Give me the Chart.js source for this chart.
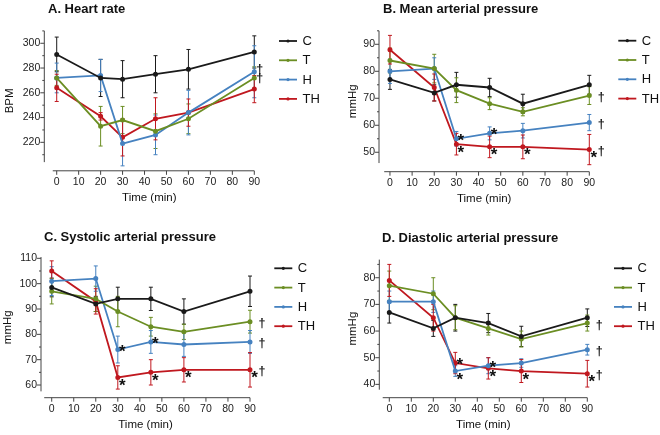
<!DOCTYPE html>
<html>
<head>
<meta charset="utf-8">
<script src="https://cdn.jsdelivr.net/npm/chart.js@4.4.0/dist/chart.umd.min.js"></script>
<style>
  body { margin: 0; background: #fff; }
  #wrap { position: relative; width: 660px; height: 435px; overflow: hidden; }
  canvas { position: absolute; }
  .ttl { position: absolute; font: bold 13px "Liberation Sans", Arial, sans-serif; line-height: 15px; white-space: nowrap; color: #111; }
</style>
</head>
<body>
<div id="wrap">
  <canvas id="cA" width="330" height="217" style="left:0;top:0"></canvas>
  <canvas id="cB" width="330" height="217" style="left:330px;top:0"></canvas>
  <canvas id="cC" width="330" height="218" style="left:0;top:217px"></canvas>
  <canvas id="cD" width="330" height="218" style="left:330px;top:217px"></canvas>
  <div class="ttl" style="left:48px;top:1px">A. Heart rate</div>
  <div class="ttl" style="left:383px;top:1px">B. Mean arterial pressure</div>
  <div class="ttl" style="left:44px;top:229px">C. Systolic arterial pressure</div>
  <div class="ttl" style="left:382px;top:229.5px">D. Diastolic arterial pressure</div>
</div>
<script>
const FONT = '"Liberation Sans", Arial, sans-serif';

const times = [0, 20, 30, 45, 60, 90];
const groups = ["C", "T", "H", "TH"];
const colors = ["#1a1a1a", "#6b8e23", "#4682c0", "#c0181f"];

// A. Heart rate (BPM), mean and SD
const hrC = [291, 272, 271, 275, 279, 293];
const hrT = [272, 233, 238, 229, 239, 272];
const hrH = [272, 274, 219, 226, 244, 277];
const hrTH = [264, 241, 224, 239, 244, 263];
const hrC_sd = [14, 15, 15, 15, 16, 13];
const hrT_sd = [6, 16, 11, 14, 12, 9];
const hrH_sd = [12, 13, 18, 16, 18, 21];
const hrTH_sd = [11, 3, 15, 17, 11, 11];

// B. Mean arterial pressure (mmHg)
const mapC = [77, 72, 75, 74, 68, 75];
const mapT = [84, 81, 73, 68, 65, 71];
const mapH = [80, 81, 55, 57, 58, 61];
const mapTH = [88, 74, 53, 52, 52, 51];
const mapC_sd = [3.7, 3, 4.6, 3.4, 3.5, 3.5];
const mapT_sd = [4.6, 5.3, 4.6, 2.2, 1.5, 3.3];
const mapH_sd = [4.5, 4, 2.7, 2.4, 2.7, 3];
const mapTH_sd = [5.3, 5, 4, 4, 4.4, 5.6];

// C. Systolic arterial pressure (mmHg)
const sapC = [98.5, 92, 94, 94, 89, 97];
const sapT = [97, 94, 89, 83, 81, 85];
const sapH = [101, 102, 74, 77, 76, 77];
const sapTH = [105, 93, 63, 65, 66, 66];
const sapC_sd = [3.7, 3, 4.6, 4.6, 5, 6];
const sapT_sd = [5, 5, 6, 3.7, 3, 4.5];
const sapH_sd = [5.7, 5, 5.3, 4.5, 4.7, 4.5];
const sapTH_sd = [4, 5, 4.6, 5, 4.8, 6.8];

// D. Diastolic arterial pressure (mmHg)
const dapC = [67, 61, 65, 63, 58, 65];
const dapT = [77, 74, 65, 61, 57, 63];
const dapH = [71, 71, 45, 47, 48, 53];
const dapTH = [79, 65, 48, 46, 45, 44];
const dapC_sd = [4, 3, 5, 3.6, 3.8, 3.3];
const dapT_sd = [5.5, 6, 4.5, 2.5, 3, 3];
const dapH_sd = [4, 4, 2, 3, 1.6, 2];
const dapTH_sd = [6, 5, 4, 4, 4.3, 5];

// significance marks: * vs baseline, † at the end of the experiment
const starsPressure = [["H", 30], ["H", 45], ["TH", 30], ["TH", 45], ["TH", 60], ["TH", 90]];
const daggersA = ["T", "H"];
const daggersPressure = ["T", "H", "TH"];

const panels = [
  { id: "cA", yTitle: "BPM", means: [hrC, hrT, hrH, hrTH], sds: [hrC_sd, hrT_sd, hrH_sd, hrTH_sd],
    xMin: -5.65, yMin: 197, yMax: 310, axisLo: 204, axisHi: 310, xStart: -1.8, major: 20, minor: 10,
    top: 30.9, right: 75.7, yW: 44.3, xH: 46.2, yTitlePad: 3.4, xTitlePad: 12.7,
    legX: 279, legY: 41, dagDx: 5.5, dagDy: -1, stars: [], daggers: daggersA },
  { id: "cB", yTitle: "mmHg", means: [mapC, mapT, mapH, mapTH], sds: [mapC_sd, mapT_sd, mapH_sd, mapTH_sd],
    xMin: -4.95, yMin: 42.8, yMax: 95, axisLo: 46, axisHi: 95, xStart: -2.6, major: 10, minor: 5,
    top: 30.8, right: 70.7, yW: 49, xH: 45.3, yTitlePad: 15.9, xTitlePad: 11.5,
    legX: 288.3, legY: 40.7, dagDx: 12, dagDy: 2, stars: starsPressure, daggers: daggersPressure },
  { id: "cC", yTitle: "mmHg", means: [sapC, sapT, sapH, sapTH], sds: [sapC_sd, sapT_sd, sapH_sd, sapTH_sd],
    xMin: -4.86, yMin: 55, yMax: 110.6, axisLo: 57.5, axisHi: 110.5, xStart: -3.4, major: 10, minor: 5,
    top: 39.8, right: 80, yW: 41, xH: 37.3, yTitlePad: 0.9, xTitlePad: 3.4,
    legX: 274.3, legY: 51.3, dagDx: 12, dagDy: 2, stars: starsPressure, daggers: daggersPressure },
  { id: "cD", yTitle: "mmHg", means: [dapC, dapT, dapH, dapTH], sds: [dapC_sd, dapT_sd, dapH_sd, dapTH_sd],
    xMin: -4.55, yMin: 35, yMax: 86.8, axisLo: 38, axisHi: 86.8, xStart: -3, major: 10, minor: 5,
    top: 42.6, right: 72.7, yW: 49.3, xH: 37.3, yTitlePad: 15.9, xTitlePad: 3.4,
    legX: 284, legY: 51.3, dagDx: 12, dagDy: 2, stars: starsPressure, daggers: daggersPressure }
];

// Prism-like extras: error bars, detached axes, legend, * and † marks
const prismPlugin = {
  id: "prism",
  beforeDatasetsDraw(chart) {
    const ctx = chart.ctx;
    const xs = chart.scales.x, ys = chart.scales.y;
    ctx.save();
    ctx.lineWidth = 1;
    chart.data.datasets.forEach(ds => {
      ctx.strokeStyle = ds.borderColor;
      ds.data.forEach((pt, j) => {
        const x = xs.getPixelForValue(pt.x);
        const y1 = ys.getPixelForValue(pt.y + ds.sd[j]);
        const y2 = ys.getPixelForValue(pt.y - ds.sd[j]);
        ctx.beginPath();
        ctx.moveTo(x, y1); ctx.lineTo(x, y2);
        ctx.moveTo(x - 2, y1); ctx.lineTo(x + 2, y1);
        ctx.moveTo(x - 2, y2); ctx.lineTo(x + 2, y2);
        ctx.stroke();
      });
    });
    ctx.restore();
  },
  afterDatasetsDraw(chart) {
    const ctx = chart.ctx;
    const p = chart.options.plugins.prism;
    const xs = chart.scales.x, ys = chart.scales.y;
    const area = chart.chartArea;
    ctx.save();
    // axes
    ctx.strokeStyle = "#444";
    ctx.lineWidth = 1;
    ctx.beginPath();
    ctx.moveTo(area.left, ys.getPixelForValue(p.axisLo));
    ctx.lineTo(area.left, ys.getPixelForValue(p.axisHi));
    ctx.moveTo(xs.getPixelForValue(p.xStart), area.bottom);
    ctx.lineTo(xs.getPixelForValue(90), area.bottom);
    ys.ticks.forEach(t => {
      if (t.value < p.axisLo || t.value > p.axisHi) return;
      const y = ys.getPixelForValue(t.value);
      const len = t.value % p.major === 0 ? 4 : 2;
      ctx.moveTo(area.left - len, y); ctx.lineTo(area.left, y);
    });
    xs.ticks.forEach(t => {
      const x = xs.getPixelForValue(t.value);
      ctx.moveTo(x, area.bottom); ctx.lineTo(x, area.bottom + 4);
    });
    ctx.stroke();

    const byLabel = {};
    chart.data.datasets.forEach(ds => { byLabel[ds.label] = ds; });
    const valueAt = (g, t) => byLabel[g].data.find(d => d.x === t).y;

    // stars
    ctx.fillStyle = "#111";
    ctx.font = "bold 17px " + FONT;
    ctx.textAlign = "center";
    ctx.textBaseline = "alphabetic";
    p.stars.forEach(([g, t]) => {
      const v = valueAt(g, t);
      const upper = p.stars.some(([g2, t2]) => t2 === t && g2 !== g && valueAt(g2, t) < v);
      const x = xs.getPixelForValue(t) + 4.5;
      const y = ys.getPixelForValue(v) + (upper ? -2.7 : 3.8);
      ctx.fillText("*", x, y + 0.575 * 17);
    });

    // daggers, pushed apart when they would overlap
    ctx.font = "bold 12.5px " + FONT;
    const marks = p.daggers.map(g => ({ y: ys.getPixelForValue(valueAt(g, 90)) + p.dagDy }))
      .sort((a, b) => a.y - b.y);
    for (let i = 1; i < marks.length; i++) {
      const gap = marks[i].y - marks[i - 1].y;
      if (gap < 9) {
        marks[i - 1].y -= (9 - gap) / 2;
        marks[i].y += (9 - gap) / 2;
      }
    }
    marks.forEach(m => {
      ctx.fillText("\u2020", xs.getPixelForValue(90) + p.dagDx, m.y + 0.28 * 12.5);
    });

    // legend
    ctx.textAlign = "left";
    ctx.textBaseline = "middle";
    ctx.font = "13px " + FONT;
    chart.data.datasets.forEach((ds, i) => {
      const y = p.legY + i * 19.3;
      ctx.strokeStyle = ds.borderColor;
      ctx.lineWidth = 1.8;
      ctx.beginPath();
      ctx.moveTo(p.legX, y); ctx.lineTo(p.legX + 18, y);
      ctx.stroke();
      ctx.fillStyle = ds.borderColor;
      ctx.beginPath();
      ctx.arc(p.legX + 9, y, 1.6, 0, Math.PI * 2);
      ctx.fill();
      ctx.fillStyle = "#111";
      ctx.fillText(ds.label, p.legX + 23.5, y + 0.5);
    });
    ctx.restore();
  }
};

function makeChart(p) {
  new Chart(document.getElementById(p.id), {
    type: "line",
    data: {
      datasets: groups.map((g, i) => ({
        label: g,
        data: times.map((t, j) => ({ x: t, y: p.means[i][j] })),
        sd: p.sds[i],
        borderColor: colors[i],
        backgroundColor: colors[i],
        borderWidth: 1.8,
        pointRadius: 1.6,
        pointHoverRadius: 1.6,
        tension: 0,
        clip: false
      }))
    },
    options: {
      responsive: false,
      animation: false,
      events: [],
      layout: { padding: { top: p.top, right: p.right, left: 0, bottom: 0 } },
      plugins: {
        legend: { display: false },
        tooltip: { enabled: false },
        prism: p
      },
      scales: {
        x: {
          type: "linear", min: p.xMin, max: 90,
          afterFit: s => { s.height = p.xH; },
          border: { display: false },
          grid: { display: true, drawOnChartArea: false, drawTicks: true, tickLength: 4, color: "rgba(0,0,0,0)" },
          ticks: { stepSize: 10, includeBounds: false, autoSkip: false, maxRotation: 0, padding: 1,
                   color: "#222", font: { size: 10.5, family: FONT } },
          title: { display: true, text: "Time (min)", color: "#111", font: { size: 11.5, family: FONT },
                   padding: { top: 0, bottom: p.xTitlePad } }
        },
        y: {
          type: "linear", min: p.yMin, max: p.yMax,
          afterFit: s => { s.width = p.yW; },
          border: { display: false },
          grid: { display: true, drawOnChartArea: false, drawTicks: true, tickLength: 4, color: "rgba(0,0,0,0)" },
          ticks: { stepSize: p.minor, includeBounds: false, autoSkip: false, padding: 0,
                   color: "#222", font: { size: 10.5, family: FONT },
                   callback: v => (v % p.major === 0 && v >= p.axisLo && v <= p.axisHi) ? v : "" },
          title: { display: true, text: p.yTitle, color: "#111", font: { size: 11.5, family: FONT },
                   padding: { top: p.yTitlePad - 0.3, bottom: 0 } }
        }
      }
    },
    plugins: [prismPlugin]
  });
}

panels.forEach(makeChart);
</script>
</body>
</html>
